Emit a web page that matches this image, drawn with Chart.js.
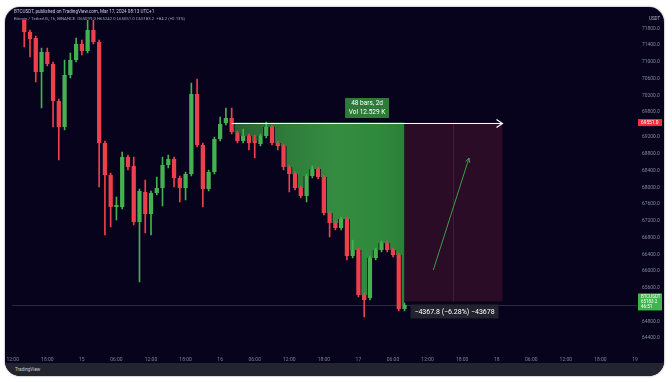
<!DOCTYPE html>
<html><head><meta charset="utf-8">
<script src="https://cdn.jsdelivr.net/npm/chart.js@4.4.0/dist/chart.umd.min.js"></script>
<style>
html,body{margin:0;padding:0;background:#fff;width:672px;height:382px;overflow:hidden;font-family:Roboto,"Open Sans",sans-serif;}
#panel{position:absolute;left:5px;top:7px;width:659px;height:369px;border-radius:15px;background:#07031c;overflow:hidden;box-shadow:0 0 2px rgba(0,0,0,0.55);}
#c{position:absolute;left:0;top:0;}
#title{position:absolute;left:9px;top:1.5px;font-size:4.6px;color:#c9cbd8;white-space:nowrap;}
#legend{position:absolute;left:9px;top:9px;font-size:4.3px;color:#9da1b3;white-space:nowrap;}
#footer{position:absolute;left:0;top:356px;width:659px;height:13px;background:#22252f;}
#footer span{position:absolute;left:10px;top:3.5px;font-size:4.6px;color:#c9cbd8;}
</style></head>
<body>
<div id="panel">
<canvas id="c" width="659" height="356"></canvas>
<div id="title">BTCUSDT, published on TradingView.com, Mar 17, 2024 08:13 UTC+1</div>
<div id="legend">Bitcoin / TetherUS, 1h, BINANCE &nbsp;O65099.0 H65242.0 L65051.0 C65183.2 &nbsp;+84.2 (+0.13%)</div>
<div id="footer"><span>TradingView</span></div>
</div>
<script>
// ---- data (1h candles, hours counted from Mar 14 00:00) ----
const candleHours = [14,15,16,17,18,19,20,21,22,23,24,25,26,27,28,29,30,31,32,33,34,35,36,37,38,39,40,41,42,43,44,45,46,47,48,49,50,51,52,53,54,55,56,57,58,59,60,61,62,63,64,65,66,67,68,69,70,71,72,73,74,75,76,77,78,79,80];
const opens  = [72048,71713,71570,70758,71236,70949,70066,69445,70687,71045,71427,71260,71761,71475,69063,68299,67534,67534,68729,68513,67176,67893,67367,67869,67988,68537,68681,68227,67988,68322,70233,69015,67964,68370,69158,69540,69660,69302,69110,69230,69110,69039,69230,69445,69063,68991,68490,68322,67988,67797,68275,68442,68251,67391,67152,67033,67248,66364,66508,65433,65361,66316,66508,66675,66508,66388,65099];
const highs  = [72119,71761,71618,71331,71331,70997,70113,71045,71212,71570,71522,72000,72000,71522,69110,68346,67773,68848,68776,68729,67964,68179,67917,68251,68729,68776,68729,68275,68370,70496,70591,69063,68418,69206,69684,69899,69899,69349,69397,69278,69254,69278,69564,69493,69110,69039,68537,68370,68036,68322,68513,68490,68299,67439,67200,67296,67296,66746,66555,65481,66364,66555,66722,66722,66555,66436,65242];
const lows   = [71355,71116,70519,69899,70901,69445,68657,69373,70615,70997,71164,71212,71427,68012,66866,67057,67224,67487,68418,67105,65743,66913,66866,67821,67558,68466,68012,67654,67702,68275,68967,67534,67917,68322,69110,69493,69278,69063,69063,68896,68705,68991,69182,69015,68896,68418,67893,67940,67749,67654,68227,68203,67343,66818,66985,66985,66268,66316,65385,64907,65314,66268,66460,66460,66340,65051,65051];
const closes = [71713,71546,70758,71236,70949,70066,69445,70687,71045,71427,71260,71761,71475,69063,68299,67534,67582,68729,68490,67176,67917,67367,67869,67988,68537,68681,68227,67988,68322,70233,69015,67964,68370,69158,69516,69660,69325,69110,69230,69063,69063,69230,69445,69063,68991,68490,68322,67988,67797,68275,68442,68251,67391,67152,67033,67248,66364,66508,65433,65314,66316,66508,66675,66508,66388,65099,65194];

const xTickHours  = [12,18,24,30,36,42,48,54,60,66,72,78,84,90,96,102,108,114,120];
const xTickLabels = ['12:00','18:00','15','06:00','12:00','18:00','16','06:00','12:00','18:00','17','06:00','12:00','18:00','18','06:00','12:00','18:00','19'];
const yTickValues = [71800,71400,71000,70600,70200,69800,69200,68800,68400,68000,67600,67200,66800,66400,66000,65600,64800,64400];

const measureStartHour = 50, measureEndHour = 97, projectionStartHour = 80, projectionMidHour = 88.4;
const measureTopPrice = 69551.0, measureBottomPrice = 65183.2;
const measureBarsText = '48 bars, 2d', measureVolText = 'Vol 12.529 K';
const measureChangeText = '\u22124367.8 (\u22126.28%) \u221243678';
const projectionFrom = {hour: 85, price: 66030}, projectionTo = {hour: 91.2, price: 68705};
const lastPriceLabel = ['BTCUSDT', '65183.2', '46:51'];

const GREEN = '#45b04f', RED = '#ee3f4d';
const isUp = i => closes[i] >= opens[i];
const fillStart = candleHours.indexOf(measureStartHour);

const overlay = {
  id: 'overlay',
  beforeDatasetsDraw(chart) {
    const {ctx, chartArea: a, scales: {x, y}} = chart;
    ctx.save();
    const yl = Math.round(y.getPixelForValue(measureBottomPrice)) + 0.5;
    ctx.strokeStyle = 'rgba(110,118,150,0.35)'; ctx.lineWidth = 1;
    ctx.beginPath(); ctx.moveTo(a.left, yl); ctx.lineTo(a.right, yl); ctx.stroke();
    const bx0 = x.getPixelForValue(projectionStartHour), bx1 = x.getPixelForValue(measureEndHour);
    const by0 = y.getPixelForValue(measureTopPrice), by1 = y.getPixelForValue(measureBottomPrice) - 4;
    ctx.fillStyle = '#2a0c27';
    ctx.fillRect(bx0, by0, bx1 - bx0, by1 - by0);
    const vx = Math.round(x.getPixelForValue(projectionMidHour)) + 0.5;
    ctx.strokeStyle = '#3e1c3a';
    ctx.beginPath(); ctx.moveTo(vx, by0); ctx.lineTo(vx, by1); ctx.stroke();
    ctx.restore();
  },
  afterDatasetsDraw(chart) {
    const {ctx, scales: {x, y}} = chart;
    ctx.save();
    const ly = Math.round(y.getPixelForValue(measureTopPrice)) + 0.5;
    const lx0 = x.getPixelForValue(measureStartHour), lx1 = x.getPixelForValue(measureEndHour);
    ctx.strokeStyle = '#ffffff'; ctx.lineWidth = 1.2;
    ctx.beginPath(); ctx.moveTo(lx0, ly); ctx.lineTo(lx1, ly);
    ctx.moveTo(lx1 - 6, ly - 4); ctx.lineTo(lx1, ly); ctx.lineTo(lx1 - 6, ly + 4); ctx.stroke();
    const cx = (lx0 + lx1) / 2;
    ctx.fillStyle = '#2f7a3b';
    ctx.fillRect(cx - 22, ly - 25.5, 44, 20);
    ctx.fillStyle = '#ffffff'; ctx.textAlign = 'center'; ctx.textBaseline = 'middle';
    ctx.font = '6.5px Roboto, sans-serif';
    ctx.fillText(measureBarsText, cx, ly - 20.5);
    ctx.fillText(measureVolText, cx, ly - 11);
    const chx = x.getPixelForValue(projectionStartHour) + 6;
    const chy = y.getPixelForValue(measureBottomPrice) - 1;
    ctx.fillStyle = '#23232f';
    ctx.fillRect(chx, chy, 88, 14);
    ctx.fillStyle = '#ffffff'; ctx.font = '7px Roboto, sans-serif';
    ctx.fillText(measureChangeText, chx + 44, chy + 7.5);
    const px0 = x.getPixelForValue(projectionFrom.hour), py0 = y.getPixelForValue(projectionFrom.price);
    const px1 = x.getPixelForValue(projectionTo.hour), py1 = y.getPixelForValue(projectionTo.price);
    ctx.strokeStyle = '#3a9d48'; ctx.lineWidth = 1;
    ctx.beginPath(); ctx.moveTo(px0, py0); ctx.lineTo(px1, py1); ctx.stroke();
    const ang = Math.atan2(py1 - py0, px1 - px0);
    ctx.beginPath();
    ctx.moveTo(px1 - 5 * Math.cos(ang - 0.45), py1 - 5 * Math.sin(ang - 0.45));
    ctx.lineTo(px1, py1);
    ctx.lineTo(px1 - 5 * Math.cos(ang + 0.45), py1 - 5 * Math.sin(ang + 0.45));
    ctx.stroke();
    ctx.restore();
  },
  afterDraw(chart) {
    const {ctx, chartArea: a, scales: {y}} = chart;
    ctx.save();
    ctx.textAlign = 'left'; ctx.textBaseline = 'middle';
    const ry = y.getPixelForValue(measureTopPrice);
    ctx.fillStyle = '#f0303f';
    ctx.fillRect(a.right + 1, ry - 3.5, 24, 7);
    ctx.fillStyle = '#ffffff'; ctx.font = '4.8px Roboto, sans-serif';
    ctx.fillText(measureTopPrice.toFixed(1), a.right + 4, ry + 0.3);
    const gy = y.getPixelForValue(measureBottomPrice);
    ctx.fillStyle = '#3fb54c';
    ctx.fillRect(a.right + 1, gy - 12, 24, 17);
    ctx.fillStyle = '#ffffff'; ctx.font = '4.5px Roboto, sans-serif';
    lastPriceLabel.forEach((t, i) => ctx.fillText(t, a.right + 4, gy - 8.5 + i * 5));
    ctx.fillStyle = '#b8bbc8'; ctx.font = '4.5px Roboto, sans-serif';
    ctx.fillText('USDT', a.right + 12, a.top - 1);
    ctx.restore();
  }
};

new Chart(document.getElementById('c'), {
  type: 'bar',
  data: {
    datasets: [
      {
        type: 'line', order: 3,
        data: candleHours.slice(fillStart).map((h, k) => ({x: h, y: Math.min(Math.max(opens[fillStart + k], closes[fillStart + k]), measureTopPrice)})),
        stepped: 'middle', pointRadius: 0, borderWidth: 0, borderColor: 'rgba(0,0,0,0)',
        fill: {value: measureTopPrice},
        backgroundColor: ctx => {
          const c = ctx.chart, a = c.chartArea;
          if (!a) return '#2f7f3c';
          const x = c.scales.x;
          const g = c.ctx.createLinearGradient(x.getPixelForValue(measureStartHour), 0, x.getPixelForValue(projectionStartHour), 0);
          g.addColorStop(0, '#2a5f34'); g.addColorStop(0.3, '#2e7a3a'); g.addColorStop(0.6, '#348c41'); g.addColorStop(0.85, '#2f8a3c'); g.addColorStop(1, '#2c7f39');
          return g;
        }
      },
      {
        order: 2, grouped: false, barThickness: 1,
        data: candleHours.map((h, i) => ({x: h, y: [lows[i], highs[i]]})),
        backgroundColor: candleHours.map((h, i) => isUp(i) ? GREEN : RED)
      },
      {
        order: 1, grouped: false, categoryPercentage: 1, barPercentage: 0.74, minBarLength: 1,
        data: candleHours.map((h, i) => ({x: h, y: [opens[i], closes[i]]})),
        backgroundColor: candleHours.map((h, i) => isUp(i) ? GREEN : RED)
      }
    ]
  },
  options: {
    responsive: false, animation: false, devicePixelRatio: 1,
    layout: {padding: {top: 13, left: 3, right: 0, bottom: 0}},
    plugins: {legend: {display: false}, tooltip: {enabled: false}},
    scales: {
      x: {
        type: 'linear', min: 11.9, max: 120.35, offset: false,
        grid: {display: false, drawTicks: false}, border: {display: false},
        afterBuildTicks: s => { s.ticks = xTickHours.map(v => ({value: v})); },
        afterFit: s => { s.height = 8; },
        ticks: {autoSkip: false, maxRotation: 0, padding: 1.5, color: '#7d8196',
          font: {family: 'Roboto', size: 5},
          callback: (v, i) => xTickLabels[i]}
      },
      y: {
        position: 'right', min: 64000, max: 72000,
        grid: {display: false, drawTicks: false}, border: {display: false},
        afterBuildTicks: s => { s.ticks = yTickValues.map(v => ({value: v})); },
        afterFit: s => { s.width = 27; },
        ticks: {padding: 5, color: '#868a9e', font: {family: 'Roboto', size: 4.9},
          callback: v => Number(v).toFixed(1)}
      }
    }
  },
  plugins: [overlay]
});
</script>
</body></html>
